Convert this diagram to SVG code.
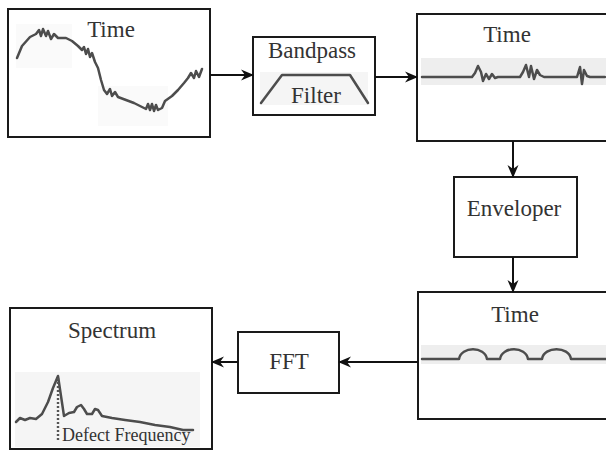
<svg xmlns="http://www.w3.org/2000/svg" width="606" height="451" viewBox="0 0 606 451">
  <style>
    .box { fill: #ffffff; stroke: #1a1a1a; stroke-width: 2; }
    .lbl { font-family: "Liberation Serif", "Times New Roman", serif; font-size: 23px; fill: #333333; text-anchor: middle; }
    .small { font-family: "Liberation Serif", "Times New Roman", serif; font-size: 18px; fill: #333333; }
    .band { fill: #eeeeee; }
    .wave { fill: none; stroke: #4d4d4d; stroke-width: 2.5; stroke-linejoin: round; stroke-linecap: round; }
    .conn { fill: none; stroke: #111111; stroke-width: 2; }
  </style>
  <defs>
    <marker id="arrow" markerUnits="userSpaceOnUse" markerWidth="13" markerHeight="13" viewBox="0 0 13 13" refX="12" refY="6.5" orient="auto">
      <path d="M0,1 L13,6.5 L0,12 L4,6.5 Z" fill="#111111"/>
    </marker>
  </defs>

  <rect width="606" height="451" fill="#ffffff"/>

  <!-- raw time signal -->
  <g id="time-raw">
    <rect class="box" x="8" y="9" width="202" height="128"/>
    <rect class="band" x="16" y="24" width="56" height="44" opacity="0.3"/>
    <rect class="band" x="98" y="86" width="70" height="40" opacity="0.3"/>
    <path class="wave" d="M17,58 L22,46 L30,37 L36,34 L39,30 L41,36 L43,29 L46,36 L48,31 L51,39 L54,34 L58,38 L66,38 L72,41 L78,46 L82,50 L84,47 L86,54 L88,49 L90,57 L92,53 L95,62 L98,68 L101,80 L104,90 L107,94 L110,89 L112,96 L115,92 L118,97 L126,100 L134,103 L142,107 L146,109 L148,104 L150,110 L152,104 L154,111 L156,105 L158,110 L162,108 L165,101 L172,96 L178,90 L184,83 L188,78 L191,73 L194,78 L196,71 L199,77 L202,69"/>
    <text class="lbl" x="111" y="37">Time</text>
  </g>

  <!-- bandpass filter -->
  <g id="bandpass">
    <rect class="box" x="253" y="37" width="122" height="78"/>
    <rect class="band" x="260" y="72" width="108" height="33" opacity="0.6"/>
    <path class="wave" d="M261,103 L282,75 L350,75 L368,103" stroke-width="2"/>
    <text class="lbl" x="312" y="58">Bandpass</text>
    <text class="lbl" x="316" y="103">Filter</text>
  </g>

  <!-- filtered time signal -->
  <g id="time-filtered">
    <rect class="box" x="417" y="14" width="200" height="127"/>
    <rect class="band" x="421" y="58" width="185" height="27"/>
    <path class="wave" stroke-width="2" d="M422,77 L472,77 L475,73 L478,66 L481,72 L483,81 L486,74 L489,79 L492,74 L495,78 L498,77 L520,77 L523,72 L526,65 L529,77 L531,66 L534,79 L537,70 L540,75 L544,77 L577,77 L580,67 L582,84 L584,70 L587,76 L590,77 L605,77"/>
    <text class="lbl" x="507" y="42">Time</text>
  </g>

  <!-- envelope detector -->
  <g id="enveloper">
    <rect class="box" x="454" y="177" width="123" height="80"/>
    <text class="lbl" x="514" y="216">Enveloper</text>
  </g>

  <!-- envelope time signal -->
  <g id="time-envelope">
    <rect class="box" x="418" y="292" width="200" height="127"/>
    <rect class="band" x="421" y="345" width="185" height="19"/>
    <path class="wave" stroke-width="2" d="M422,359 L459,359 C461,346 485,346 487,359 L500,359 C502,346 526,346 528,359 L542,359 C544,346 569,346 571,359 L606,359"/>
    <text class="lbl" x="515" y="322">Time</text>
  </g>

  <!-- FFT -->
  <g id="fft">
    <rect class="box" x="238" y="332" width="101" height="61"/>
    <text class="lbl" x="289" y="369">FFT</text>
  </g>

  <!-- spectrum -->
  <g id="spectrum">
    <rect class="box" x="10" y="308" width="202" height="141"/>
    <rect class="band" x="15" y="372" width="185" height="75" opacity="0.6"/>
    <path class="wave" d="M16,422 L20,418 L25,420 L30,418 L36,419 L42,414 L48,402 L53,388 L58,376 L61,396 L64,416 L69,413 L74,412 L77,407 L81,405 L84,409 L87,414 L92,414 L95,409 L98,410 L102,416 L112,418 L125,420 L140,422 L155,425 L170,427 L183,430 L193,430" stroke-width="2.8"/>
    <line x1="58" y1="378" x2="58" y2="440" stroke="#555555" stroke-width="2.4" stroke-dasharray="2,2"/>
    <text class="lbl" x="112" y="338">Spectrum</text>
    <text class="small" x="62" y="441">Defect Frequency</text>
  </g>

  <!-- connectors -->
  <g id="connectors">
    <path class="conn" d="M210,75 L253,75" marker-end="url(#arrow)"/>
    <path class="conn" d="M375,77 L417,77" marker-end="url(#arrow)"/>
    <path class="conn" d="M513,141 L513,177" marker-end="url(#arrow)"/>
    <path class="conn" d="M513,257 L513,292" marker-end="url(#arrow)"/>
    <path class="conn" d="M418,362 L339,362" marker-end="url(#arrow)"/>
    <path class="conn" d="M238,362 L212,362" marker-end="url(#arrow)"/>
  </g>
</svg>
